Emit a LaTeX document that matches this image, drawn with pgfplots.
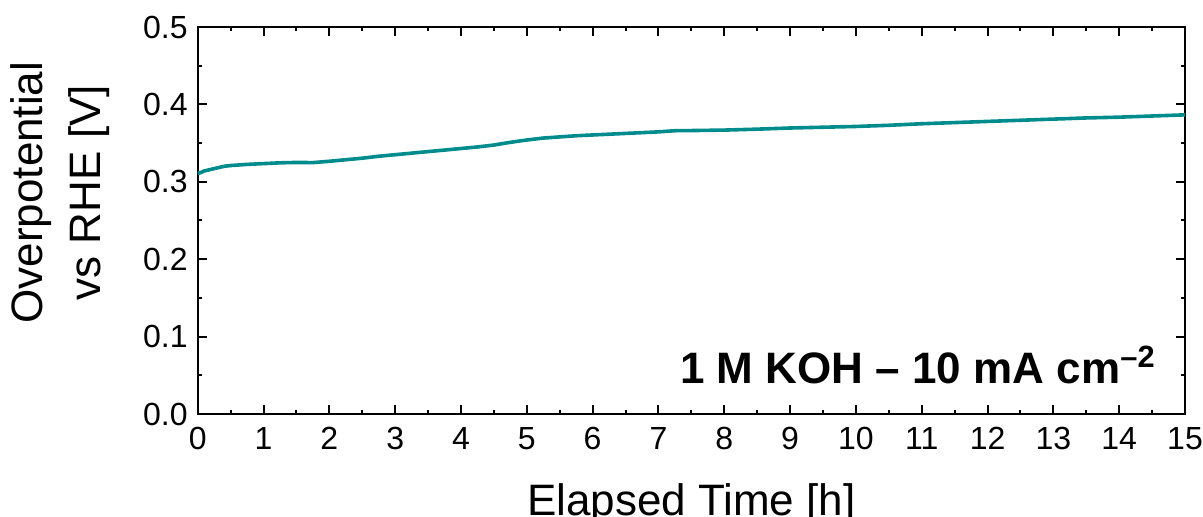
\documentclass[border=0pt]{standalone}
\usepackage{pgfplots}
\pgfplotsset{compat=1.18}
\usepackage{fontspec}
\setmainfont{Liberation Sans}
\definecolor{teal1}{RGB}{0,140,140}
\begin{document}
\begin{tikzpicture}
\path[use as bounding box] (-98.85pt,-51.5pt) rectangle (502.65pt,207pt);
\begin{axis}[
  at={(0,0)}, anchor=south west,
  scale only axis, width=493.65pt, height=193.5pt,
  xmin=0, xmax=15, ymin=0, ymax=0.5,
  xtick={0,1,...,15}, ytick={0,0.1,0.2,0.3,0.4,0.5},
  minor x tick num=1, minor y tick num=1,
  tick align=inside, xtick pos=both, ytick pos=both,
  major tick length=4.5pt, minor tick length=2.2pt,
  every tick/.style={black, line width=1pt},
  axis line style={line width=1pt},
  /pgf/number format/assume math mode=true,
  yticklabel style={/pgf/number format/fixed, /pgf/number format/fixed zerofill, /pgf/number format/precision=1, font=\fontsize{16}{18}\selectfont, xshift=-1.5pt},
  xticklabel style={font=\fontsize{16}{18}\selectfont, yshift=-3pt},
  xlabel={Elapsed Time [h]},
  xlabel style={font=\fontsize{22}{26}\selectfont, at={(axis description cs:0.5,-0.261)}, anchor=base},
  ylabel={Overpotential\\vs RHE [V]},
  ylabel style={font=\fontsize{22}{29}\selectfont, align=center, at={(axis description cs:-0.1395,0.572)}, anchor=center},
]
\addplot[teal1, line width=1.8pt] coordinates {
(0.00,0.311) (0.05,0.312) (0.10,0.314) (0.20,0.316) (0.30,0.318) (0.40,0.320)
(0.50,0.321) (0.75,0.3225) (1.00,0.3235) (1.25,0.3245) (1.50,0.3250) (1.75,0.3248)
(2.00,0.3265) (2.25,0.3285) (2.50,0.3305) (2.75,0.3330) (3.00,0.3350) (3.25,0.3370)
(3.50,0.3390) (3.75,0.3410) (4.00,0.3430) (4.25,0.3450) (4.50,0.3475) (4.75,0.3510)
(5.00,0.3540) (5.25,0.3565) (5.50,0.3580) (5.75,0.3595) (6.00,0.3605) (6.50,0.3625)
(7.00,0.3645) (7.25,0.3660) (7.50,0.3662) (8.00,0.3668) (8.50,0.3680) (9.00,0.3695)
(9.50,0.3705) (10.00,0.3715) (10.50,0.3730) (11.00,0.3750) (11.50,0.3765) (12.00,0.3780)
(12.50,0.3795) (13.00,0.3810) (13.50,0.3825) (14.00,0.3835) (14.50,0.3850) (15.00,0.3865)
};
\node[anchor=base east, font=\fontsize{22}{26}\selectfont\bfseries, inner sep=0pt] at (axis cs:14.56,0.040) {1 M KOH -- 10 mA cm\textsuperscript{--2}};
\end{axis}
\end{tikzpicture}
\end{document}
